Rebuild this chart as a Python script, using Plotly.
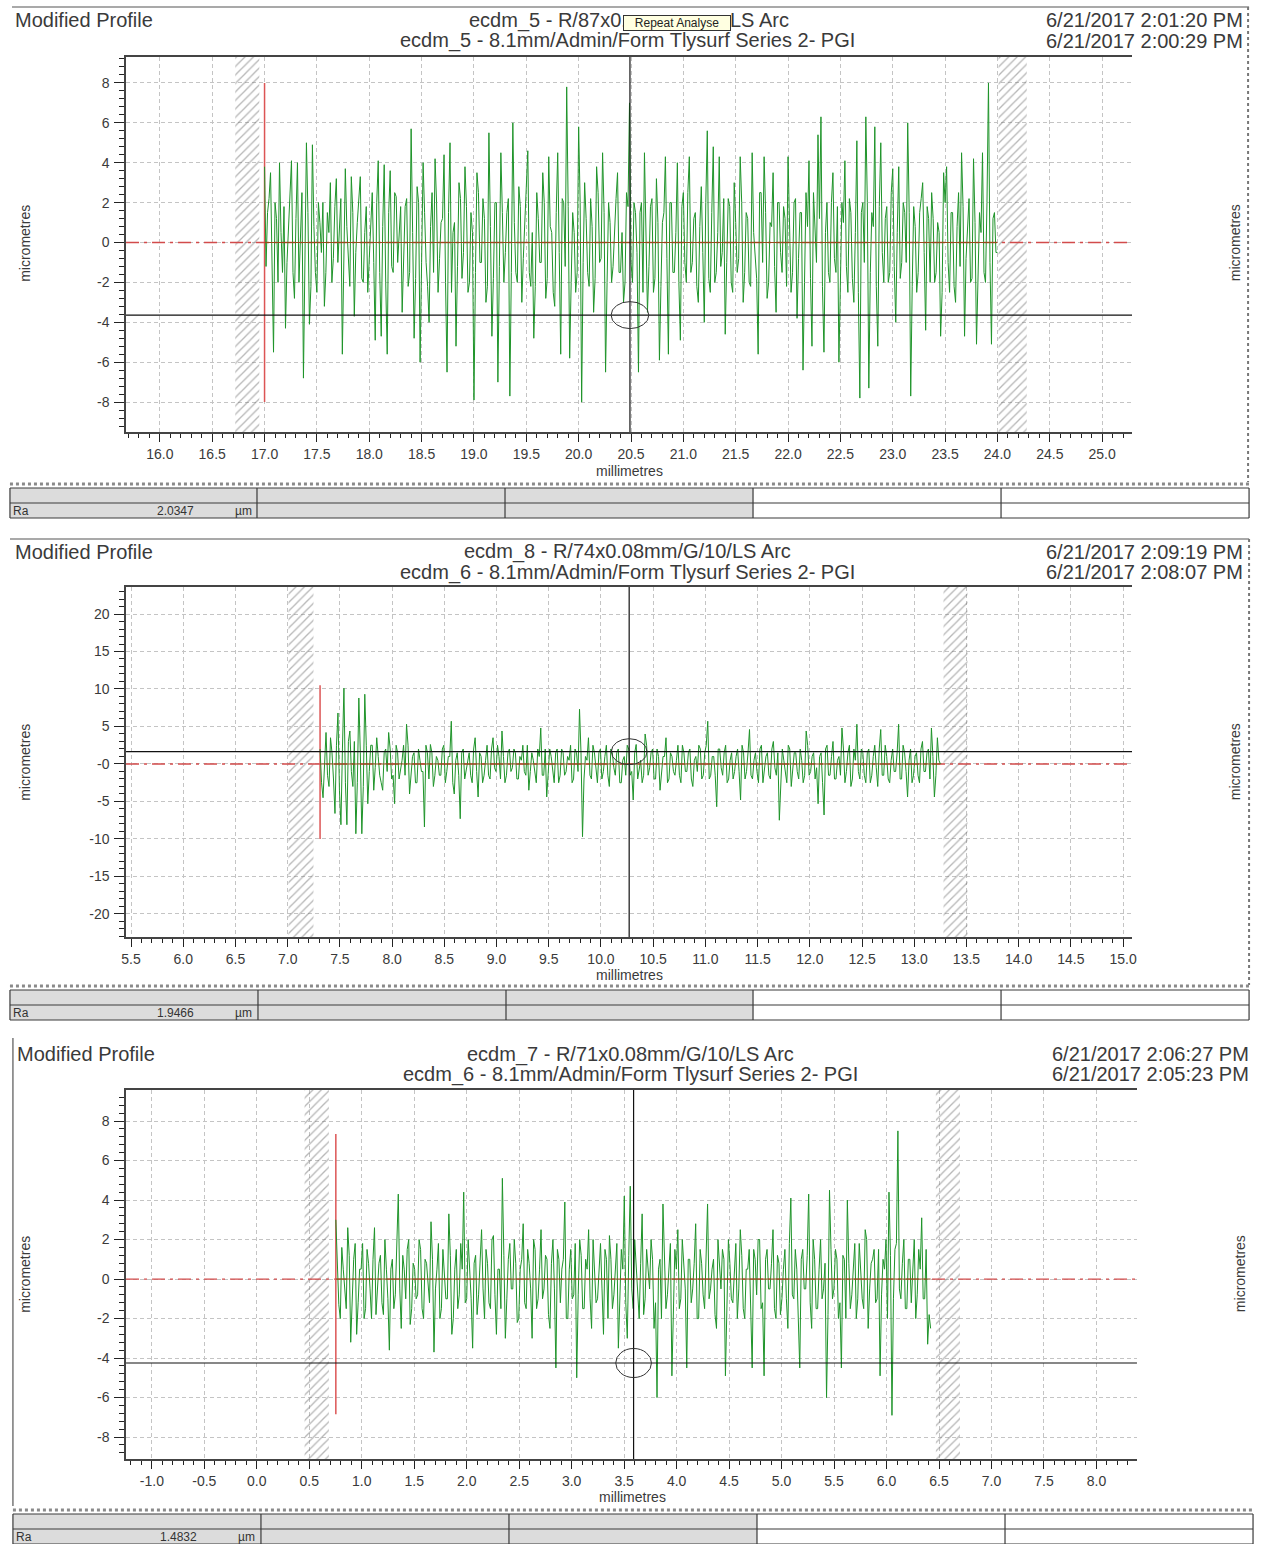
import numpy as np
import plotly.graph_objects as go

W, H = 1262, 1544
FONT = "Liberation Sans, Arial, sans-serif"

# ---------------- data ----------------
# main samples of each profile, and the finer in-between samples
p1_profile = [
    3.8, 1.5, 3.5, -5.5, 1.2, 4.0, -1.5, -4.3, 0.8, 4.1,
    -2.8, 4.0, 1.0, -6.8, 5.0, -4.1, 4.9, -1.5, 2.0, -0.5,
    -3.2, 1.5, 3.0, -0.8, 3.2, 0.5, -5.6, 3.7, -1.2, 3.3,
    -3.7, 1.0, 3.3, -2.0, 1.8, -1.0, 2.5, -4.9, 4.1, -4.7,
    3.9, -5.6, 3.6, -1.5, 2.3, 0.5, -3.5, 1.8, -2.2, 5.7,
    -4.8, 2.8, -6.0, 4.0, -1.0, -4.0, 2.5, 4.2, -2.5, 1.0,
    4.4, -6.5, 5.0, 0.5, -5.2, 3.0, -1.8, 3.8, -2.5, 1.5,
    -7.9, 3.5, -1.0, 2.2, -3.0, 5.5, -4.7, 2.0, -7.0, 4.5,
    -2.0, 1.5, -7.7, 6.0, -1.5, 2.8, -3.0, 1.2, 4.6, -2.2,
    -4.8, 2.5, -1.0, 3.5, -2.8, 4.3, 0.5, -3.2, 4.5, -5.6,
    2.0, 7.8, -5.8, 1.5, -2.5, 5.8, -8.0, 3.0, -1.5, 2.2,
    -3.5, 3.8, -1.0, 4.5, -6.5, 2.0, -2.0, 1.0, 3.5, -1.5,
    -3.0, 2.5, 7.0, -2.0, 1.5, -6.5, 2.0, 4.5, -3.5, 1.8,
    -2.5, 3.2, -5.9, 1.0, 4.3, -5.6, 2.0, -1.5, 4.0, -4.9,
    2.5, -2.0, 4.3, -1.0, 1.5, -3.0, 2.8, -4.0, 5.6, -2.5,
    4.8, -1.5, 4.3, -0.5, -4.6, 2.2, -2.0, 3.0, -1.5, 4.3,
    -3.0, 1.5, -2.0, 4.5, -1.0, -5.6, 2.5, 4.3, -2.8, 1.0,
    3.5, -3.5, 2.0, -1.5, 1.2, 4.3, -2.5, 2.0, -3.8, 1.5,
    -6.4, 2.5, 4.1, -5.2, 1.0, 5.4, 6.3, -5.5, 2.0, -2.0,
    3.5, -1.5, -6.0, 2.0, 4.1, -2.5, 1.5, -3.0, 5.1, -7.8,
    2.0, 6.3, -7.3, 1.5, 5.8, -5.2, 5.0, -2.0, 1.8, -1.5,
    3.7, -4.0, 3.8, -1.0, 1.5, 6.0, -7.7, 1.8, -2.5, 1.5,
    3.0, -4.4, 1.2, 2.5, -2.0, 1.0, -4.7, 3.5, 3.8, -2.5,
    1.5, -3.0, 2.5, 4.5, -4.7, 1.0, -2.0, 4.2, -5.1, 1.5,
    4.5, -2.0, 8.0, -5.1, 1.5, -0.5,
]
p1_fine = [
    -1.2, 2.2, -0.5, 2.0, -2.0, 0.5, 1.8, -1.0, 2.5, -1.5,
    1.2, -2.0, 2.5, -0.8, 1.5, -2.2, 0.8, -2.5, 1.0, 2.0,
    -1.5, 0.5, -2.0, 1.8, -1.0, 2.2, -1.5, 0.8, -2.2, 1.5,
    -0.5, 2.0, -1.8, 0.5, -2.5, 1.2, -1.0, 2.0, -1.5, 0.8,
    -2.0, 1.5, -1.2, 2.5, -1.0, 1.8, -0.5, 2.2, -1.5, 0.5,
    -1.8, 2.0, -1.0, 1.5, -2.2, 0.8, -1.5, 2.0, -0.8, 1.2,
    -2.0, 1.5, -2.5, 1.0, -1.2, 2.2, -0.5, 1.8, -2.0, 0.5,
    -1.5, 2.5, -1.0, 1.2, -2.2, 0.8, -1.8, 2.0, -1.2, 1.5,
    -0.5, 2.2, -1.5, 1.0, -2.0, 1.8, -0.8, 2.5, -1.5, 0.5,
    -2.2, 1.2, -1.0, 2.0, -1.8, 0.8, -2.5, 1.5, -0.5, 2.2,
    -1.2, 1.8, -2.0, 0.5, -1.5, 2.0, -1.0, 1.2, -2.2, 0.8,
    -1.8, 2.5, -0.8, 1.5, -2.0, 1.0, -1.2, 2.2, -1.5, 0.5,
    -2.0, 1.8, -1.0, 2.0, -0.5, 1.5, -2.5, 0.8, -1.2, 2.2,
    -1.8, 1.0, -2.2, 1.5, -0.8, 2.0, -1.5, 0.5, -2.0, 1.8,
    -1.0, 2.5, -1.5, 1.2, -2.2, 0.8, -0.5, 2.0, -1.8, 1.5,
    -2.0, 0.5, -1.2, 2.2, -1.0, 1.8, -2.5, 1.0, -0.8, 2.0,
    -1.5, 1.2, -2.2, 0.5, -1.8, 2.5, -1.0, 1.5, -2.0, 0.8,
    -1.2, 2.0, -0.5, 1.8, -2.2, 1.0, -1.5, 2.2, -0.8, 1.5,
    -2.0, 0.8, -1.8, 2.5, -1.0, 1.2, -2.2, 0.5, -1.5, 2.0,
    -0.8, 1.8, -2.0, 1.0, -1.2, 2.2, -1.8, 0.5, -2.5, 1.5,
    -1.0, 2.0, -1.5, 0.8, -2.2, 1.8, -0.5, 1.2, -2.0, 2.5,
    -1.2, 0.5, -1.8, 2.0, -1.0, 1.5, -2.2, 0.8, -1.5, 2.2,
    -0.5, 1.8, -2.0, 1.2, -1.5, 0.5, -2.5, 2.0, -1.0, 1.5,
    -2.2, 0.8, -1.2, 1.8, -0.8, 2.2, -1.8, 1.0, -2.0, 0.5,
    -1.5, 2.0, -1.0, 1.2, -0.5,
]
p1_span = [17.0, 24.0]
p1_zones = [(16.72, 16.95), (24.01, 24.28)]
p1_start_marker = [17.0, -8.0, 8.0]
p1_cursor = [20.49, -3.64]
p1_xticks = ["16.0", "16.5", "17.0", "17.5", "18.0", "18.5", "19.0", "19.5", "20.0",
             "20.5", "21.0", "21.5", "22.0", "22.5", "23.0", "23.5", "24.0", "24.5", "25.0"]
p1_yticks = ["8", "6", "4", "2", "0", "-2", "-4", "-6", "-8"]
p1_header = ["ecdm_5 - R/87x0.08mm/G/10/LS Arc",
             "ecdm_5 - 8.1mm/Admin/Form Tlysurf Series 2- PGI"]
p1_dates = ["6/21/2017 2:01:20 PM", "6/21/2017 2:00:29 PM"]
p1_ra = "2.0347"
p1_tooltip = "Repeat Analyse"
p1_hidden_by_tooltip = "08mm/G/10/"

p2_profile = [
    2.0, -4.5, 4.2, -3.0, 1.5, -6.6, 6.8, -8.1, 10.1, -8.1,
    4.4, -3.0, -9.3, 8.8, -9.3, 9.3, -5.3, 2.5, -3.5, 3.5,
    -1.5, -3.5, 2.0, 4.2, -2.0, -5.3, 1.5, -1.0, 2.5, 5.3,
    -4.0, 1.0, -2.5, 2.0, -1.0, -8.4, 1.5, 2.6, -3.0, 1.0,
    -1.5, 2.0, -2.5, 1.0, 5.7, -4.0, 1.5, -7.3, 2.0, -1.0,
    1.5, -2.5, 3.5, -4.4, 1.0, -1.5, 2.5, -2.0, 3.5, -1.0,
    1.0, 4.4, -2.5, 1.5, -1.0, 2.0, -2.0, 1.0, 2.5, -1.5,
    -3.5, 1.5, -1.0, 2.0, 4.8, -1.5, -4.4, 2.0, -1.0, 1.5,
    -2.5, 2.0, -1.5, 1.0, 2.5, -2.0, 1.5, 7.3, -9.7, 1.0,
    3.5, -2.0, 1.5, -2.5, 2.0, -1.0, 2.5, -3.0, 1.5, -1.5,
    2.0, -2.5, 1.0, 2.5, -1.5, -4.8, 2.6, -1.0, -2.5, 4.0,
    -1.5, 1.5, -2.0, 2.0, -3.5, 1.0, 3.5, -2.0, 1.0, -1.5,
    2.5, -2.5, 1.5, -1.0, 2.0, -3.0, 1.0, 2.5, -2.0, 1.5,
    5.7, -1.5, 1.0, -5.7, 2.0, -1.5, 2.5, -2.0, 1.5, -1.0,
    2.0, -4.8, 1.5, -1.0, 4.6, -2.0, 1.5, -2.5, 2.5, -1.0,
    1.5, -2.0, 3.0, -1.5, -7.5, 2.0, -1.5, 2.5, -3.0, 1.5,
    -1.0, 2.0, -2.5, 4.4, -1.5, 1.0, -2.0, -5.3, 1.5, -6.8,
    2.5, -1.5, 3.0, -2.0, 1.0, 4.8, -2.5, 1.5, -3.0, 2.0,
    5.3, -2.0, 1.5, -2.5, 2.0, -1.5, 2.5, -3.0, 4.6, -1.5,
    1.0, -2.5, 2.0, -1.0, 5.3, -2.0, 1.5, -4.4, 2.0, -1.5,
    1.5, -2.5, 3.0, -1.0, 2.0, 4.8, -4.4, 3.5, 0.0,
]
p2_fine = [
    -2.5, 1.0, -1.5, 3.5, -2.0, 2.5, -3.5, 2.0, -2.5, 3.0,
    -1.0, 3.0, -2.5, 1.5, -3.0, 2.5, -1.0, 2.5, -0.5, 1.0,
    -2.5, 1.5, -1.0, 2.0, -1.5, 2.5, -2.0, 0.5, -1.5, 2.5,
    -1.0, 1.5, -2.5, 0.5, -1.0, 2.5, -2.0, 1.5, -1.5, 0.5,
    -1.5, 2.5, -1.0, 1.0, -2.5, 0.5, -1.5, 1.5, -2.0, 0.5,
    -1.5, 2.0, -1.0, 1.5, -2.5, 0.5, -1.5, 2.0, -0.5, 2.5,
    -2.0, 1.0, -1.5, 2.0, -0.5, 1.5, -2.0, 0.5, -1.0, 2.5,
    -1.0, 0.5, -2.5, 1.0, -1.5, 2.0, -1.0, 1.0, -2.5, 2.0,
    -1.5, 1.5, -1.0, 0.5, -2.5, 2.0, -1.0, 1.5, -2.0, 0.5,
    -1.5, 2.5, -0.5, 1.5, -2.0, 1.0, -1.5, 2.0, -0.5, 1.5,
    -2.5, 0.5, -1.5, 2.0, -1.0, 1.5, -2.0, 0.5, -1.5, 2.5,
    -0.5, 2.0, -2.0, 1.0, -1.5, 1.0, -2.5, 1.5, -1.0, 0.5,
    -1.5, 2.5, -1.0, 1.5, -2.0, 0.5, -1.0, 2.0, -1.5, 2.5,
    -2.0, 1.0, -1.5, 2.0, -0.5, 1.5, -2.5, 0.5, -2.0, 1.0,
    -1.0, 2.5, -2.0, 1.5, -1.5, 0.5, -1.0, 2.0, -2.5, 1.0,
    -1.5, 2.0, -0.5, 1.5, -2.0, 0.5, -2.5, 2.0, -1.0, 1.5,
    -2.0, 0.5, -1.5, 2.5, -1.0, 1.5, -0.5, 1.0, -2.5, 2.0,
    -1.5, 1.0, -2.0, 0.5, -1.5, 2.0, -1.0, 2.5, -2.0, 0.5,
    -1.0, 2.0, -1.5, 1.5, -2.5, 1.0, -0.5, 2.0, -1.5, 2.5,
    -2.0, 0.5, -1.0, 1.5, -2.0, 2.5, -1.0, 0.5, -2.5, 1.0,
    -1.5, 2.0, -1.0, 1.5, -2.0, 1.0, -1.5, 0.5,
]
p2_span = [7.31, 13.25]
p2_zones = [(7.007, 7.247), (13.28, 13.51)]
p2_start_marker = [7.31, -10.0, 10.5]
p2_cursor = [10.27, 1.64]
p2_xticks = ["5.5", "6.0", "6.5", "7.0", "7.5", "8.0", "8.5", "9.0", "9.5", "10.0",
             "10.5", "11.0", "11.5", "12.0", "12.5", "13.0", "13.5", "14.0", "14.5", "15.0"]
p2_yticks = ["20", "15", "10", "5", "-0", "-5", "-10", "-15", "-20"]
p2_header = ["ecdm_8 - R/74x0.08mm/G/10/LS Arc",
             "ecdm_6 - 8.1mm/Admin/Form Tlysurf Series 2- PGI"]
p2_dates = ["6/21/2017 2:09:19 PM", "6/21/2017 2:08:07 PM"]
p2_ra = "1.9466"

p3_profile = [
    3.0, -1.3, 1.6, -0.5, 2.6, -3.2, 1.0, -2.8, 0.5, 1.8,
    -1.5, 0.8, -2.0, 2.6, -0.5, 1.2, -1.8, 0.5, -3.6, 1.0,
    -0.8, 4.3, -2.5, 0.5, 1.5, -2.3, 0.8, -1.0, 2.0, -1.5,
    1.0, -0.5, 2.9, -3.7, 0.5, -2.0, 1.5, -1.0, 3.3, -2.8,
    0.5, -1.5, 1.8, 4.4, -1.0, 0.5, -3.5, 1.2, -0.8, 2.5,
    -2.0, 0.8, -1.5, 2.2, -2.8, 0.5, 5.1, -3.0, 1.0, -0.5,
    2.0, -2.2, 0.5, 2.8, -1.5, 0.8, -3.0, 1.5, -1.0, 2.5,
    -0.5, 1.0, -2.5, 2.0, -4.5, 1.0, 0.5, 3.9, -2.0, 1.5,
    -0.8, -5.0, 2.0, -1.5, 1.0, 2.5, -2.5, 0.5, -1.0, 1.8,
    -2.8, 1.0, 2.2, -1.5, 0.5, -3.5, 1.5, 4.2, -3.0, 4.7,
    -1.5, 0.8, -2.0, 3.3, -1.0, 0.5, 2.0, -2.5, -6.0, 1.0,
    3.8, -1.5, 0.5, -4.9, 1.5, 2.5, -1.0, 0.5, -4.5, 1.0,
    -0.5, 2.8, -2.0, 0.8, -1.5, 3.8, -0.5, 1.0, -2.5, 0.5,
    1.5, -4.9, 2.0, -1.0, 0.8, -2.0, 2.5, -1.5, 0.5, 1.5,
    -4.5, 1.0, 2.0, -1.5, -4.9, 1.5, -0.5, 2.5, -2.0, 0.8,
    -1.0, 1.5, -2.5, 4.1, -1.0, 0.5, -4.5, 1.5, -0.5, 4.3,
    -2.5, 1.0, -1.5, 2.0, -0.5, -6.0, 4.5, -1.0, 1.5, -2.0,
    -4.5, 1.0, 4.0, -1.5, 0.5, -2.0, 1.8, -1.0, 2.5, -2.5,
    0.8, 1.5, -1.0, -4.9, 1.0, 2.0, 4.4, -6.9, 1.5, 7.5,
    -1.0, 2.0, -1.5, 1.0, 0.5, -2.0, 1.5, 3.1, -1.0, -3.3,
    -2.5,
]
p3_fine = [
    1.0, -2.0, 0.5, -1.5, 1.2, -0.8, 1.8, -1.2, 0.5, -2.0,
    1.5, -0.5, 1.0, -1.8, 0.8, -1.2, 2.0, -1.0, 0.5, -1.5,
    1.8, -0.5, 1.2, -1.0, 2.0, -1.5, 0.5, -0.8, 1.5, -2.0,
    0.8, -1.2, 1.0, -0.5, 1.8, -1.5, 0.5, -1.0, 1.2, -2.0,
    1.5, -0.8, 0.5, -1.2, 2.0, -1.0, 0.8, -1.8, 1.0, -0.5,
    1.5, -1.2, 2.0, -0.8, 0.5, -1.5, 1.2, -1.0, 1.8, -0.5,
    0.8, -2.0, 1.0, -1.2, 1.5, -0.5, 2.0, -1.5, 0.5, -1.0,
    1.2, -1.8, 0.8, -0.5, 1.5, -1.2, 1.0, -2.0, 0.5, -1.0,
    1.8, -0.8, 1.2, -1.5, 0.5, -1.0, 2.0, -1.2, 0.8, -0.5,
    1.5, -2.0, 1.0, -0.8, 1.8, -1.5, 0.5, -1.2, 1.2, -0.5,
    2.0, -1.0, 0.8, -1.8, 1.5, -0.5, 1.0, -1.2, 0.5, -2.0,
    1.2, -0.8, 1.8, -1.0, 0.5, -1.5, 2.0, -0.5, 1.0, -1.2,
    0.8, -2.0, 1.5, -0.8, 1.2, -1.0, 0.5, -1.8, 2.0, -0.5,
    1.0, -1.5, 0.8, -1.2, 1.8, -0.5, 1.2, -2.0, 0.5, -1.0,
    1.5, -0.8, 2.0, -1.2, 1.0, -0.5, 0.8, -1.5, 1.2, -1.8,
    0.5, -1.0, 1.8, -0.8, 1.5, -2.0, 1.0, -0.5, 1.2, -1.2,
    2.0, -1.5, 0.5, -1.0, 0.8, -1.8, 1.5, -0.5, 1.0, -1.2,
    1.2, -2.0, 0.8, -0.8, 1.8, -1.0, 0.5, -1.5, 2.0, -0.5,
    1.0, -1.2, 1.5, -0.8, 0.5, -2.0, 1.2, -1.0, 1.8, -0.5,
    0.8, -1.5, 1.0, -1.2, 2.0, -0.8, 0.5, -1.0, 1.5, -1.8,
]
p3_span = [0.753, 6.42]
p3_zones = [(0.455, 0.687), (6.47, 6.70)]
p3_start_marker = [0.753, -6.84, 7.34]
p3_cursor = [3.59, -4.25]
p3_xticks = ["-1.0", "-0.5", "0.0", "0.5", "1.0", "1.5", "2.0", "2.5", "3.0", "3.5",
             "4.0", "4.5", "5.0", "5.5", "6.0", "6.5", "7.0", "7.5", "8.0"]
p3_yticks = ["8", "6", "4", "2", "0", "-2", "-4", "-6", "-8"]
p3_header = ["ecdm_7 - R/71x0.08mm/G/10/LS Arc",
             "ecdm_6 - 8.1mm/Admin/Form Tlysurf Series 2- PGI"]
p3_dates = ["6/21/2017 2:06:27 PM", "6/21/2017 2:05:23 PM"]
p3_ra = "1.4832"

# ---------------- layout geometry (pixels) ----------------
panels = [
    dict(profile=p1_profile, fine=p1_fine, span=p1_span, zones=p1_zones,
         marker=p1_start_marker, cursor=p1_cursor, xticks=p1_xticks, yticks=p1_yticks,
         header=p1_header, dates=p1_dates, ra=p1_ra,
         box=(122, 57, 1136, 432), xrange=[15.677, 25.285], yrange=[-9.50, 9.30],
         xminor=0.1, yminor=0.4, ell=(38, 27),
         title_y=(20, 41), mp_x=8, center_x=627, date_x=1250,
         ytitle=(20, 1240, 243), xtitle=(629, 471),
         frame=[((7, 7), (1254, 7), "solid"), ((1253, 7), (1253, 482), "dot")],
         sep=(5, 1254, 484), rows=(488, 503, 518), cols=(5, 254, 504, 754, 1004, 1254)),
    dict(profile=p2_profile, fine=p2_fine, span=p2_span, zones=p2_zones,
         marker=p2_start_marker, cursor=p2_cursor, xticks=p2_xticks, yticks=p2_yticks,
         header=p2_header, dates=p2_dates, ra=p2_ra,
         box=(122, 587, 1136, 937), xrange=[5.452, 15.085], yrange=[-23.07, 23.6],
         xminor=0.1, yminor=1.0, ell=(36, 26),
         title_y=(552, 572), mp_x=8, center_x=627, date_x=1250,
         ytitle=(20, 1240, 762), xtitle=(629, 975),
         frame=[((5, 539), (1254, 539), "solid"), ((1254, 539), (1254, 985), "dot")],
         sep=(5, 1254, 986), rows=(990, 1005, 1020), cols=(5, 255, 505, 754, 1004, 1254)),
    dict(profile=p3_profile, fine=p3_fine, span=p3_span, zones=p3_zones,
         marker=p3_start_marker, cursor=p3_cursor, xticks=p3_xticks, yticks=p3_yticks,
         header=p3_header, dates=p3_dates, ra=p3_ra,
         box=(122, 1090, 1141, 1459), xrange=[-1.246, 8.386], yrange=[-9.11, 9.57],
         xminor=0.1, yminor=0.4, ell=(36, 29),
         title_y=(1054, 1074), mp_x=10, center_x=630, date_x=1256,
         ytitle=(20, 1245, 1274), xtitle=(633, 1497),
         frame=[((8, 1038), (8, 1506), "solid")],
         sep=(8, 1258, 1510), rows=(1514, 1529, 1544), cols=(8, 258, 508, 758, 1008, 1258)),
]


def fx(px):
    return px / W


def fy(py):
    return 1 - py / H


fig = go.Figure()
layout = dict(width=W, height=H, margin=dict(l=0, r=0, t=0, b=0),
              paper_bgcolor="white", plot_bgcolor="white", showlegend=False,
              barmode="overlay", font=dict(family=FONT, color="#333"))
shapes, annotations = [], []

tickfont = dict(family=FONT, size=14, color="#3a3a3a")
headfont = dict(family=FONT, size=20, color="#3a3a3a")
GREEN = "#1f942a"


def txt(text, x, y, xanchor="center", font=headfont, **kw):
    d = dict(text=text, x=fx(x), y=fy(y), xref="paper", yref="paper", xanchor=xanchor,
             yanchor="middle", showarrow=False, font=font)
    d.update(kw)
    annotations.append(d)


for k, p in enumerate(panels):
    xn = "x" if k == 0 else f"x{k+1}"
    yn = "y" if k == 0 else f"y{2*k+1}"
    xkey = "xaxis" if k == 0 else f"xaxis{k+1}"
    ykey = "yaxis" if k == 0 else f"yaxis{2*k+1}"
    yrkey = f"yaxis{2*k+2}"
    l, t, r, b = p["box"]
    xr, yr = p["xrange"], p["yrange"]
    xvals = [float(v) for v in p["xticks"]]
    yvals = [float(v) for v in p["yticks"]]

    layout[xkey] = dict(domain=[fx(l), fx(r)], range=xr, anchor=yn,
                        tickmode="array", tickvals=xvals, ticktext=p["xticks"],
                        ticks="outside", ticklen=8, tickwidth=1, tickcolor="#222",
                        minor=dict(ticks="outside", ticklen=4, dtick=p["xminor"], tick0=0,
                                   tickcolor="#222", showgrid=False),
                        showline=True, linecolor="#444", linewidth=1.5, mirror=True,
                        showgrid=True, gridcolor="#c4c4c4", griddash="4px,3px", gridwidth=1,
                        zeroline=False, tickfont=tickfont, fixedrange=True)
    common_y = dict(range=yr, tickmode="array", tickvals=yvals, ticktext=p["yticks"],
                    ticks="outside", ticklen=10, tickwidth=1, tickcolor="#222",
                    minor=dict(ticks="outside", ticklen=5, dtick=p["yminor"], tick0=0,
                               tickcolor="#222", showgrid=False),
                    showline=True, linecolor="#444", linewidth=1.5, ticklabelstandoff=2,
                    zeroline=False, tickfont=tickfont, fixedrange=True)
    layout[ykey] = dict(domain=[fy(b), fy(t)], anchor=xn, side="left",
                        showgrid=True, gridcolor="#c4c4c4", griddash="4px,3px", gridwidth=1,
                        **common_y)
    layout[yrkey] = dict(overlaying=yn, anchor=xn, side="right", showgrid=False, **common_y)

    # exclusion (hatched) zones
    zc = [(a + c) / 2 for a, c in p["zones"]]
    zw = [c - a for a, c in p["zones"]]
    fig.add_trace(go.Bar(x=zc, y=[yr[1] - yr[0]] * len(zc), base=[yr[0]] * len(zc),
                         width=zw, xaxis=xn, yaxis=yn, hoverinfo="skip",
                         marker=dict(color="rgba(255,255,255,0)", line=dict(width=0),
                                     pattern=dict(shape="/", fgcolor="#6f6f6f",
                                                  bgcolor="rgba(255,255,255,0)",
                                                  size=6, solidity=0.22))))
    # zero reference (dash-dot) across the whole axis
    fig.add_trace(go.Scatter(x=xr, y=[0, 0], mode="lines", xaxis=xn, yaxis=yn,
                             hoverinfo="skip",
                             line=dict(color="#d24b4b", width=1.3, dash="13px,5px,3px,5px")))
    # start marker
    mx, my0, my1 = p["marker"]
    fig.add_trace(go.Scatter(x=[mx, mx], y=[my0, my1], mode="lines", xaxis=xn, yaxis=yn,
                             hoverinfo="skip", line=dict(color="#dc5555", width=1.5)))
    # profile: main samples interleaved with the finer in-between samples
    main = np.asarray(p["profile"], dtype=float)
    fine = np.asarray(p["fine"], dtype=float)
    ys = np.empty(len(main) + len(fine))
    ys[0::2] = main
    ys[1::2] = fine
    xs = np.linspace(p["span"][0], p["span"][1], len(ys))
    fig.add_trace(go.Scatter(x=xs, y=ys, mode="lines", xaxis=xn, yaxis=yn,
                             line=dict(color=GREEN, width=1.0), hoverinfo="skip"))
    # mean line over data
    fig.add_trace(go.Scatter(x=p["span"], y=[0, 0], mode="lines", xaxis=xn, yaxis=yn,
                             hoverinfo="skip", line=dict(color="#9a4a1c", width=1)))

    # cursors
    cx, cy = p["cursor"]
    shapes.append(dict(type="line", xref=f"{xn} domain", yref=yn, x0=0, x1=1, y0=cy, y1=cy,
                       line=dict(color="#111", width=1.2), layer="above"))
    shapes.append(dict(type="line", xref=xn, yref=f"{yn} domain", x0=cx, x1=cx, y0=0, y1=1,
                       line=dict(color="#111", width=1.2), layer="above"))
    ppx = (r - l) / (xr[1] - xr[0])
    ppy = (b - t) / (yr[1] - yr[0])
    ew, eh = p["ell"]
    shapes.append(dict(type="circle", xref=xn, yref=yn,
                       x0=cx - ew / 2 / ppx, x1=cx + ew / 2 / ppx,
                       y0=cy - eh / 2 / ppy, y1=cy + eh / 2 / ppy,
                       line=dict(color="#333", width=1), layer="above"))

    # headings
    ty1, ty2 = p["title_y"]
    txt("Modified Profile", p["mp_x"], ty1, xanchor="left")
    if k == 0:
        # the tooltip hides the middle of the first heading line
        left_part, right_part = p["header"][0].split(p1_hidden_by_tooltip)
        txt(left_part, 629, ty1, xanchor="right")
        txt(right_part, 729, ty1, xanchor="left")
    else:
        txt(p["header"][0], p["center_x"], ty1)
    txt(p["header"][1], p["center_x"], ty2)
    for d_txt, yy in zip(p["dates"], (ty1, ty2)):
        txt(d_txt, p["date_x"], yy, xanchor="right")
    # axis titles
    yl, yrx, yc = p["ytitle"]
    small = dict(family=FONT, size=14, color="#3a3a3a")
    for xx in (yl, yrx):
        txt("micrometres", xx, yc, font=small, textangle=-90)
    mxx, myy = p["xtitle"]
    txt("millimetres", mxx, myy, font=small)

    # frame lines
    for (x0, y0), (x1, y1), style in p["frame"]:
        shapes.append(dict(type="line", xref="paper", yref="paper",
                           x0=fx(x0), y0=fy(y0), x1=fx(x1), y1=fy(y1),
                           line=dict(color="#777" if style == "dot" else "#555",
                                     width=2 if style == "dot" else 1.2, dash=style)))
    # table
    sx0, sx1, sy = p["sep"]
    shapes.append(dict(type="line", xref="paper", yref="paper", x0=fx(sx0), x1=fx(sx1),
                       y0=fy(sy), y1=fy(sy), line=dict(color="#8a8a8a", width=3, dash="dot")))
    r0, r1, r2 = p["rows"]
    cols = p["cols"]
    shapes.append(dict(type="rect", xref="paper", yref="paper", x0=fx(cols[0]), x1=fx(cols[3]),
                       y0=fy(r2), y1=fy(r0), fillcolor="#dcdcdc", line=dict(width=0),
                       layer="below"))
    for yy in (r0, r1, r2):
        shapes.append(dict(type="line", xref="paper", yref="paper", x0=fx(cols[0]),
                           x1=fx(cols[-1]), y0=fy(yy), y1=fy(yy),
                           line=dict(color="#3a3a3a", width=1.2)))
    for cxp in cols:
        shapes.append(dict(type="line", xref="paper", yref="paper", x0=fx(cxp), x1=fx(cxp),
                           y0=fy(r0), y1=fy(r2), line=dict(color="#3a3a3a", width=1.2)))
    rowmid = (r1 + r2) / 2
    tf = dict(family=FONT, size=12, color="#333")
    txt("Ra", cols[0] + 1, rowmid, xanchor="left", font=tf)
    txt(p["ra"], cols[0] + 188, rowmid, xanchor="right", font=tf)
    txt("µm", cols[0] + 225, rowmid, xanchor="left", font=tf)

# tooltip over the first heading
txt(p1_tooltip, 677.5, 22.5, font=dict(family=FONT, size=12, color="#222"),
    bgcolor="#ffffe1", bordercolor="#333", borderwidth=1, borderpad=0, width=106, height=14)

layout["shapes"] = shapes
layout["annotations"] = annotations
fig.update_layout(**layout)
fig.write_html("out.html")
